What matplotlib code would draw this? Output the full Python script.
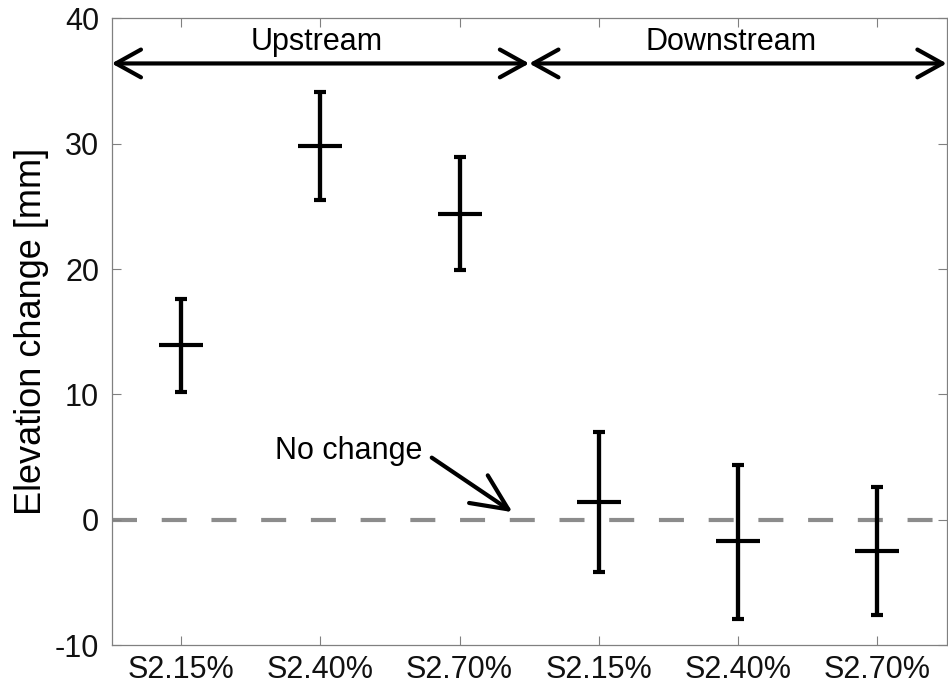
import matplotlib
matplotlib.use("Agg")
import matplotlib.pyplot as plt
from matplotlib import font_manager

# ---- data ----
categories = ['S2.15%', 'S2.40%', 'S2.70%', 'S2.15%', 'S2.40%', 'S2.70%']
means = [13.9, 29.8, 24.4, 1.4, -1.7, -2.5]
upper = [17.6, 34.1, 28.9, 7.0, 4.4, 2.6]
lower = [10.2, 25.5, 19.9, -4.2, -7.9, -7.6]
region_labels = ['Upstream', 'Downstream']
y_ticks = [-10, 0, 10, 20, 30, 40]

names = {f.name for f in font_manager.fontManager.ttflist}
base_font = 'Liberation Sans' if 'Liberation Sans' in names else 'DejaVu Sans'
narrow_font = 'Liberation Sans Narrow' if 'Liberation Sans Narrow' in names else base_font

plt.rcParams['font.family'] = [base_font, 'DejaVu Sans']
plt.rcParams['lines.scale_dashes'] = False
plt.rcParams['axes.unicode_minus'] = False

fig = plt.figure(figsize=(9.48, 6.84), dpi=100)
ax = fig.add_axes([0.1178, 0.057, 0.8808, 0.9162])

x = list(range(1, len(categories) + 1))
yerr = [[m - l for m, l in zip(means, lower)], [u - m for u, m in zip(upper, means)]]

ax.set_xlim(0.5, 6.5)
ax.set_ylim(-10, 40)

# no-change line
ax.axhline(0, color='#8c8c8c', lw=3.0, linestyle=(0, (18, 17.8)), zorder=1)

ax.errorbar(x, means, yerr=yerr, fmt='_', color='black', markersize=32,
            markeredgewidth=3.0, elinewidth=3.1, capsize=4, capthick=2.4,
            zorder=3)

# region arrows
arrow_y = 36.4
spans = [(0.5, 3.5), (3.5, 6.5)]
label_x = [1.97, 4.95]
for (a, b), lab, lx in zip(spans, region_labels, label_x):
    ax.annotate('', xy=(b, arrow_y), xytext=(a, arrow_y),
                arrowprops=dict(arrowstyle='<->,head_length=0.9,head_width=0.5',
                                mutation_scale=20, lw=3.0, color='black',
                                shrinkA=0, shrinkB=0))
    ax.text(lx, 38.1, lab, ha='center', va='center', fontsize=22,
            family=[narrow_font, base_font])

# no change annotation
ax.text(2.735, 5.5, 'No change', ha='right', va='center', fontsize=22)
ax.annotate('', xy=(3.38, 0.6), xytext=(2.80, 4.95),
            arrowprops=dict(arrowstyle='->,head_length=1.3,head_width=0.6',
                            mutation_scale=20, lw=3.0, color='black',
                            shrinkA=0, shrinkB=0))

ax.set_xticks(x)
ax.set_xticklabels(categories)
ax.set_yticks(y_ticks)
ax.set_ylabel('Elevation change [mm]', fontsize=26, labelpad=4)

for s in ax.spines.values():
    s.set_color('#808080')
    s.set_linewidth(0.9)
ax.tick_params(direction='in', length=6.5, width=0.8, color='#808080',
               top=True, right=True, labelsize=22, labelcolor='#111111')
ax.tick_params(axis='x', pad=7)
ax.tick_params(axis='y', pad=9)

fig.savefig('out.png', dpi=100)
